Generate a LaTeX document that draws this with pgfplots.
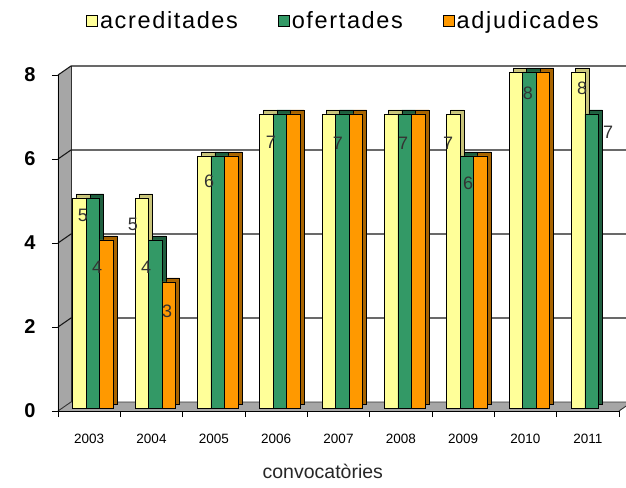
\documentclass[border=0pt]{standalone}
\usepackage{pgfplots}
\pgfplotsset{compat=1.18}
\usepackage{pgfplotstable}
\usepackage{fontspec}
\setmainfont{Liberation Sans}
\definecolor{cyel}{HTML}{FFFF99}
\definecolor{cyelS}{HTML}{C8C47A}
\definecolor{cgrn}{HTML}{339966}
\definecolor{cgrnS}{HTML}{1F5F3F}
\definecolor{corg}{HTML}{FF9900}
\definecolor{corgS}{HTML}{A86400}
\definecolor{cwall}{HTML}{A6A6A6}
\pgfplotstableread{
x a o d
1 5 5 4
2 5 4 3
3 6 6 6
4 7 7 7
5 7 7 7
6 7 7 7
7 7 6 6
8 8 8 8
9 8 7 nan
}\data
\begin{document}
\begin{tikzpicture}[x=1pt,y=1pt]
\path[use as bounding box] (0,0) rectangle (626,487);
\begin{axis}[
  at={(58pt,76pt)}, anchor=south west,
  scale only axis, width=561pt, height=336pt,
  xmin=0.5, xmax=9.5, ymin=0, ymax=8,
  clip=false,
  axis x line=bottom, axis y line=left,
  axis line style={-, black, line width=0.9pt},
  ytick={0,2,4,6,8},
  xtick={0.5,1.5,2.5,3.5,4.5,5.5,6.5,7.5,8.5,9.5}, xticklabels={},
  extra x ticks={1,2,3,4,5,6,7,8,9},
  extra x tick labels={2003,2004,2005,2006,2007,2008,2009,2010,2011},
  extra x tick style={major tick length=0pt,
     tick label style={font=\fontsize{13.5}{15}\selectfont, yshift=-20pt}},
  tick align=outside, major tick length=6pt,
  tick style={black, line width=0.9pt},
  yticklabel style={font=\bfseries\fontsize{20}{22}\selectfont, xshift=-13pt},
  /pgf/number format/assume math mode=true,
  xlabel={convocatòries},
  xlabel style={at={(rel axis cs:0.472,0)}, anchor=north, yshift=-50pt,
     font=\fontsize{19.5}{22}\selectfont, text=black!85},
  legend columns=3,
  legend style={draw=none, fill=none, inner sep=0pt,
     at={(0.05,1.195)}, anchor=north west,
     font=\fontsize{23.5}{26}\selectfont\addfontfeature{LetterSpace=7},
     /tikz/every even column/.append style={column sep=38pt}},
  legend image code/.code={\draw[#1, draw=black, line width=0.8pt, yshift=-3pt] (0pt,-5.5pt) rectangle (11pt,5.5pt);},
]
% left wall and floor
\fill[cwall] (axis cs:0.5,0) -- (axis cs:0.5,8) -- ([xshift=13pt,yshift=9pt]axis cs:0.5,8) -- ([xshift=13pt,yshift=9pt]axis cs:0.5,0) -- cycle;
\fill[cwall] (axis cs:0.5,0) -- (axis cs:9.5,0) -- ([xshift=13pt,yshift=9pt]axis cs:9.5,0) -- ([xshift=13pt,yshift=9pt]axis cs:0.5,0) -- cycle;
\draw[black!80, line width=0.9pt] ([xshift=13pt,yshift=9pt]axis cs:0.5,0) -- ([xshift=13pt,yshift=9pt]axis cs:0.5,8);
\draw[black!80, line width=0.9pt] ([xshift=13pt,yshift=9pt]axis cs:0.5,0) -- ([xshift=13pt,yshift=9pt]axis cs:9.5,0) -- (axis cs:9.5,0);
\draw[black!80, line width=0.9pt] (axis cs:0.5,0) -- ([xshift=13pt,yshift=9pt]axis cs:0.5,0);
\pgfplotsinvokeforeach{2,4,6,8}{
  \draw[black!90, line width=1.1pt] (axis cs:0.5,#1) -- ([xshift=13pt,yshift=9pt]axis cs:0.5,#1) -- ([xshift=13pt,yshift=9pt]axis cs:9.5,#1);
}
\draw[black, line width=0.9pt] (axis cs:0.5,0) -- (axis cs:9.5,0);
\draw[black, line width=0.9pt] (axis cs:0.5,0) -- (axis cs:0.5,8);
% bars
\addplot[ybar, bar width=13.5pt, bar shift=-9.7pt, fill=cyelS, draw=black, line width=0.7pt, xshift=4pt, yshift=7pt, forget plot] table[x=x,y=a]{\data};
\addplot[ybar, bar width=13.5pt, bar shift=-9.7pt, fill=cyel, draw=black, line width=0.7pt, yshift=3pt] table[x=x,y=a]{\data};
\addlegendentry{acreditades}
\addplot[ybar, bar width=13.5pt, bar shift=3.8pt, fill=cgrnS, draw=black, line width=0.7pt, xshift=4pt, yshift=7pt, forget plot] table[x=x,y=o]{\data};
\addplot[ybar, bar width=13.5pt, bar shift=3.8pt, fill=cgrn, draw=black, line width=0.7pt, yshift=3pt] table[x=x,y=o]{\data};
\addlegendentry{ofertades}
\addplot[ybar, bar width=13.5pt, bar shift=17.3pt, fill=corgS, draw=black, line width=0.7pt, xshift=4pt, yshift=7pt, forget plot] table[x=x,y=d]{\data};
\addplot[ybar, bar width=13.5pt, bar shift=17.3pt, fill=corg, draw=black, line width=0.7pt, yshift=3pt] table[x=x,y=d]{\data};
\addlegendentry{adjudicades}
% data labels
\begin{scope}[every node/.style={font=\fontsize{18}{20}\selectfont, text=black!80, inner sep=0pt}]
\node at (axis cs:0.901,4.667) {5};
\node at (axis cs:1.126,3.429) {4};
\node at (axis cs:1.703,4.452) {5};
\node at (axis cs:1.912,3.429) {4};
\node at (axis cs:2.249,2.381) {3};
\node at (axis cs:2.923,5.476) {6};
\node at (axis cs:3.917,6.405) {7};
\node at (axis cs:4.992,6.381) {7};
\node at (axis cs:6.035,6.381) {7};
\node at (axis cs:6.757,6.381) {7};
\node at (axis cs:7.078,5.429) {6};
\node at (axis cs:8.040,7.571) {8};
\node at (axis cs:8.907,7.690) {8};
\node at (axis cs:9.324,6.643) {7};
\end{scope}
\end{axis}
\end{tikzpicture}
\end{document}
